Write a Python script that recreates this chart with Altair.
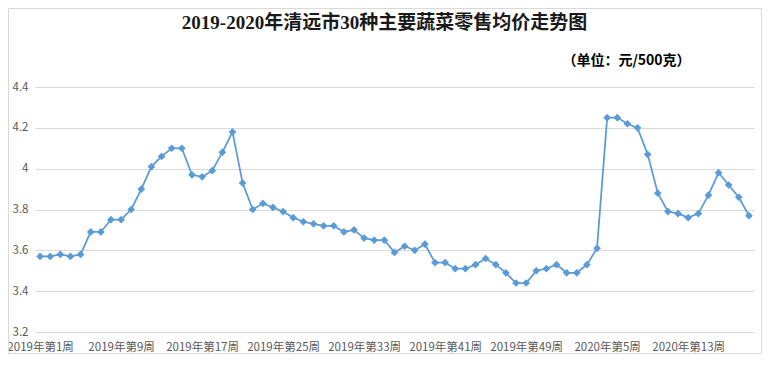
import altair as alt
import pandas as pd

weeks_2019 = [f"2019年第{i}周" for i in range(1, 53)]
weeks_2020 = [f"2020年第{i}周" for i in range(1, 20)]

prices_2019 = [3.57, 3.57, 3.58, 3.57, 3.58, 3.69, 3.69, 3.75, 3.75, 3.80,
               3.90, 4.01, 4.06, 4.10, 4.10, 3.97, 3.96, 3.99, 4.08, 4.18,
               3.93, 3.80, 3.83, 3.81, 3.79, 3.76, 3.74, 3.73, 3.72, 3.72,
               3.69, 3.70, 3.66, 3.65, 3.65, 3.59, 3.62, 3.60, 3.63, 3.54,
               3.54, 3.51, 3.51, 3.53, 3.56, 3.53, 3.49, 3.44, 3.44, 3.50,
               3.51, 3.53]
prices_2020 = [3.49, 3.49, 3.53, 3.61, 4.25, 4.25, 4.22, 4.20, 4.07, 3.88,
               3.79, 3.78, 3.76, 3.78, 3.87, 3.98, 3.92, 3.86, 3.77]

y_ticks = [3.2, 3.4, 3.6, 3.8, 4.0, 4.2, 4.4]
title_text = ["2019-2020年清远市30种主要蔬菜零售均价走势图"]
unit_text = ["（单位：元/500克）"]

weeks = weeks_2019 + weeks_2020
df = pd.DataFrame({"week": weeks, "price": prices_2019 + prices_2020})
shown_labels = weeks[::8]

W, H = 719, 245
PL, PT, PR, PB = 27, 79, 8, 22
LINE_COLOR = "#5B9BD5"
LABEL_FONT = "Noto Sans CJK SC"

x_enc = alt.X(
    "week:N",
    sort=weeks,
    scale=alt.Scale(type="point", padding=0.5),
    axis=alt.Axis(
        values=shown_labels, labelAngle=0, ticks=False, domain=True,
        domainColor="#d9d9d9", grid=False, title=None, labelPadding=9,
        labelFontSize=11.5, labelColor="#595959", labelFont=LABEL_FONT,
        labelOverlap=False,
    ),
)
y_enc = alt.Y(
    "price:Q",
    scale=alt.Scale(domain=[3.2, 4.4], nice=False, zero=False),
    axis=alt.Axis(
        values=y_ticks, format=".1~f", grid=True, gridColor="#d9d9d9",
        domain=False, ticks=False, tickSize=0, title=None, labelPadding=7,
        labelFontSize=11.5, labelColor="#595959", labelFont=LABEL_FONT,
    ),
)

base = alt.Chart(df)
line = base.mark_line(color=LINE_COLOR, strokeWidth=1.75).encode(x=x_enc, y=y_enc)
points = base.mark_point(shape="diamond", filled=True, size=60, color=LINE_COLOR,
                         opacity=1).encode(x=x_enc, y=y_enc)

title = alt.Chart(pd.DataFrame({"t": title_text})).mark_text(
    font="Liberation Serif, Noto Sans CJK SC", fontSize=19, fontWeight="bold",
    color="#1a1a1a", align="center", baseline="middle",
).encode(text="t:N", x=alt.value(349.5), y=alt.value(-64))

unit = alt.Chart(pd.DataFrame({"t": unit_text})).mark_text(
    font=LABEL_FONT, fontSize=14, fontWeight="bold", color="#000000",
    align="center", baseline="middle",
).encode(text="t:N", x=alt.value(591.5), y=alt.value(-26.5))

frame = alt.Chart(pd.DataFrame({"a": [0]})).mark_rect(
    fill="white", fillOpacity=0, stroke="#d9d9d9", strokeWidth=1,
).encode(x=alt.value(-PL + 0.5), x2=alt.value(W + PR - 0.5),
         y=alt.value(-PT + 0.5), y2=alt.value(H + PB - 0.5))

chart = alt.layer(frame, line, points, title, unit).properties(
    width=W, height=H,
    autosize=alt.AutoSizeParams(type="none"),
    padding={"left": PL, "top": PT, "right": PR, "bottom": PB},
    background="white",
).configure_view(stroke=None)

chart.save("out.html", embed_options={"renderer": "svg", "actions": False})
